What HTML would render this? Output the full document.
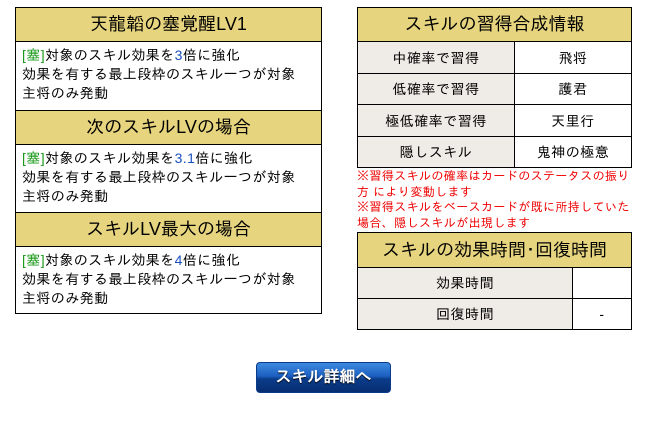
<!DOCTYPE html>
<html><head><meta charset="utf-8"><style>
*{margin:0;padding:0;box-sizing:border-box}
body{width:648px;height:425px;background:#fff;font-family:"Liberation Sans","IPAGothic","Noto Sans CJK JP",sans-serif;position:relative;overflow:hidden;color:#000}
.a{position:absolute}
.h{background:#e6d47e;border:1px solid #000;text-align:center;font-size:18px;display:flex;align-items:center;justify-content:center}
.b{background:#fff;border:1px solid #000;border-top:none;font-size:14px;letter-spacing:0.4px;line-height:19px;padding:4px 0 0 6px}
.g{color:#1a9a1a}.bl{color:#1a4fc0}
.c{border:1px solid #000;font-size:14px;letter-spacing:0.5px;display:flex;align-items:center;justify-content:center}
.l{background:#efebe6}
.red{color:#e00;font-size:12px;letter-spacing:0.4px;line-height:15.5px}
.btn{background:linear-gradient(#3d8ae0,#1c5fc0 45%,#0b3c8a 55%,#062e72);border-radius:4px;color:#fff;font-weight:bold;font-size:16px;display:flex;align-items:center;justify-content:center;text-shadow:0 1px 1px #000;border:1px solid #0a3a8a}
</style></head><body>
<div class="a h" style="left:15px;top:7px;width:307px;height:35px">天龍韜の塞覚醒LV1</div>
<div class="a b" style="left:15px;top:42px;width:307px;height:69px"><span class="g">[塞]</span>対象のスキル効果を<span class="bl">3</span>倍に強化<br>効果を有する最上段枠のスキル一つが対象<br>主将のみ発動</div>
<div class="a h" style="left:15px;top:110px;width:307px;height:35px">次のスキルLVの場合</div>
<div class="a b" style="left:15px;top:145px;width:307px;height:68px"><span class="g">[塞]</span>対象のスキル効果を<span class="bl">3.1</span>倍に強化<br>効果を有する最上段枠のスキル一つが対象<br>主将のみ発動</div>
<div class="a h" style="left:15px;top:212px;width:307px;height:35px">スキルLV最大の場合</div>
<div class="a b" style="left:15px;top:247px;width:307px;height:67px"><span class="g">[塞]</span>対象のスキル効果を<span class="bl">4</span>倍に強化<br>効果を有する最上段枠のスキル一つが対象<br>主将のみ発動</div>

<div class="a h" style="left:357px;top:7px;width:275px;height:35px">スキルの習得合成情報</div>
<div class="a c l" style="left:357px;top:41px;width:158px;height:33px">中確率で習得</div>
<div class="a c" style="left:514px;top:41px;width:118px;height:33px">飛将</div>
<div class="a c l" style="left:357px;top:73px;width:158px;height:32px">低確率で習得</div>
<div class="a c" style="left:514px;top:73px;width:118px;height:32px">護君</div>
<div class="a c l" style="left:357px;top:104px;width:158px;height:33px">極低確率で習得</div>
<div class="a c" style="left:514px;top:104px;width:118px;height:33px">天里行</div>
<div class="a c l" style="left:357px;top:136px;width:158px;height:32px">隠しスキル</div>
<div class="a c" style="left:514px;top:136px;width:118px;height:32px">鬼神の極意</div>
<div class="a red" style="left:357px;top:169px;width:275px">※習得スキルの確率はカードのステータスの振り<br>方 により変動します<br>※習得スキルをベースカードが既に所持していた<br>場合、隠しスキルが出現します</div>

<div class="a h" style="left:357px;top:232px;width:275px;height:36px">スキルの効果時間･回復時間</div>
<div class="a c l" style="left:357px;top:267px;width:216px;height:32px">効果時間</div>
<div class="a c" style="left:572px;top:267px;width:60px;height:32px"></div>
<div class="a c l" style="left:357px;top:298px;width:216px;height:32px">回復時間</div>
<div class="a c" style="left:572px;top:298px;width:60px;height:32px">-</div>

<div class="a btn" style="left:256px;top:362px;width:135px;height:31px">スキル詳細へ</div>
</body></html>
